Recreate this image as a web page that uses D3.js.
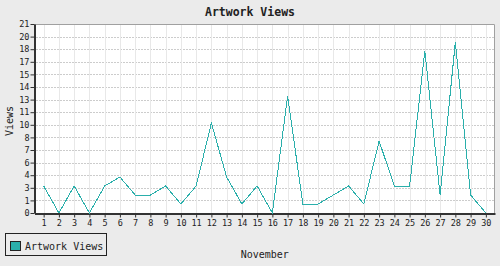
<!DOCTYPE html>
<html>
<head>
<meta charset="utf-8">
<script src="https://cdn.jsdelivr.net/npm/d3@7"></script>
<style>
  body { margin: 0; background: #ebebeb; }
  svg { display: block; font-family: "DejaVu Sans Mono", monospace; }
</style>
</head>
<body>
<div id="chart"></div>
<script>
// November, day by day
const days = d3.range(1, 31).map(String);
const views = [3, 0, 3, 0, 3, 4, 2, 2, 3, 1,
               3, 10, 4, 1, 3, 0, 13, 1, 1, 2,
               3, 1, 8, 3, 3, 18, 2, 19, 2, 0];
const yTicks = d3.range(0, 16).map((i) => i * 1.4);

const width = 500;
const height = 266;
const margin = {top: 24, right: 5, bottom: 53, left: 34.5};
const lineColor = '#2aafab';

const svg = d3.select('#chart')
  .append('svg')
  .attr('width', width)
  .attr('height', height);

svg.append('rect')
  .attr('width', width)
  .attr('height', height)
  .attr('fill', '#ebebeb');

const x = d3.scalePoint()
  .domain(days)
  .range([margin.left, width - margin.right])
  .padding(0.6);

const y = d3.scaleLinear()
  .domain([0, 21])
  .range([height - margin.bottom, margin.top]);

// plot background
svg.append('rect')
  .attr('x', margin.left)
  .attr('y', margin.top)
  .attr('width', width - margin.right - margin.left)
  .attr('height', y(0) - margin.top)
  .attr('fill', '#fff');

// horizontal dotted grid
svg.append('g')
  .selectAll('line')
  .data(yTicks.slice(1, -1))
  .join('line')
  .attr('x1', margin.left + 2)
  .attr('x2', width - margin.right)
  .attr('y1', (d) => Math.round(y(d)) + 0.5)
  .attr('y2', (d) => Math.round(y(d)) + 0.5)
  .attr('stroke', '#999')
  .attr('stroke-dasharray', '1,2');

// vertical grid
svg.append('g')
  .selectAll('line')
  .data(days)
  .join('line')
  .attr('x1', (d) => Math.round(x(d)) + 0.5)
  .attr('x2', (d) => Math.round(x(d)) + 0.5)
  .attr('y1', margin.top)
  .attr('y2', y(0))
  .attr('stroke', '#e8e8e8');

// top and right border
svg.append('path')
  .attr('d', `M${margin.left},${margin.top + 0.5}H${width - margin.right - 0.5}V${y(0)}`)
  .attr('fill', 'none')
  .attr('stroke', '#a0a0a0');

// axes
const yAxis = d3.axisLeft(y)
  .tickValues(yTicks)
  .tickFormat(d3.format('.0f'))
  .tickSize(4)
  .tickSizeOuter(0);

const xAxis = d3.axisBottom(x)
  .tickSize(4)
  .tickSizeOuter(0);

const gy = svg.append('g')
  .attr('transform', 'translate(' + margin.left + ',0)')
  .call(yAxis);

const gx = svg.append('g')
  .attr('transform', 'translate(0,' + (y(0) + 0.5) + ')')
  .call(xAxis);

[gx, gy].forEach((g) => {
  g.select('.domain').attr('stroke', '#333').attr('stroke-width', 2);
  g.selectAll('.tick line').attr('stroke', '#333');
  g.selectAll('.tick text')
    .attr('fill', '#222')
    .style('font-size', '8.5px')
    .style('font-family', '"DejaVu Sans Mono", monospace');
});
gy.selectAll('.tick text').attr('x', -5);
gx.selectAll('.tick text').attr('y', 6);

// the series line
const line = d3.line()
  .x((d, i) => x(days[i]))
  .y((d) => y(d));

svg.append('path')
  .datum(views)
  .attr('d', line)
  .attr('fill', 'none')
  .attr('stroke', lineColor)
  .attr('stroke-width', 1)
  .style('shape-rendering', 'crispEdges');

// title and axis labels
svg.append('text')
  .attr('x', width / 2)
  .attr('y', 16)
  .attr('text-anchor', 'middle')
  .style('font-size', '11.5px')
  .style('font-weight', 'bold')
  .attr('fill', '#222')
  .text('Artwork Views');

svg.append('text')
  .attr('x', (margin.left + width - margin.right) / 2)
  .attr('y', 258)
  .attr('text-anchor', 'middle')
  .style('font-size', '10px')
  .attr('fill', '#222')
  .text('November');

svg.append('text')
  .attr('transform', 'translate(13,121) rotate(-90)')
  .attr('text-anchor', 'middle')
  .style('font-size', '10px')
  .attr('fill', '#222')
  .text('Views');

// legend
const legend = svg.append('g');
legend.append('rect')
  .attr('x', 5.5)
  .attr('y', 233.5)
  .attr('width', 101)
  .attr('height', 22)
  .attr('fill', '#ebebeb')
  .attr('stroke', '#222');
legend.append('rect')
  .attr('x', 10.5)
  .attr('y', 241.5)
  .attr('width', 10)
  .attr('height', 9)
  .attr('fill', lineColor)
  .attr('stroke', '#222');
legend.append('text')
  .attr('x', 25)
  .attr('y', 250)
  .style('font-size', '10px')
  .attr('fill', '#222')
  .text('Artwork Views');
</script>
</body>
</html>
